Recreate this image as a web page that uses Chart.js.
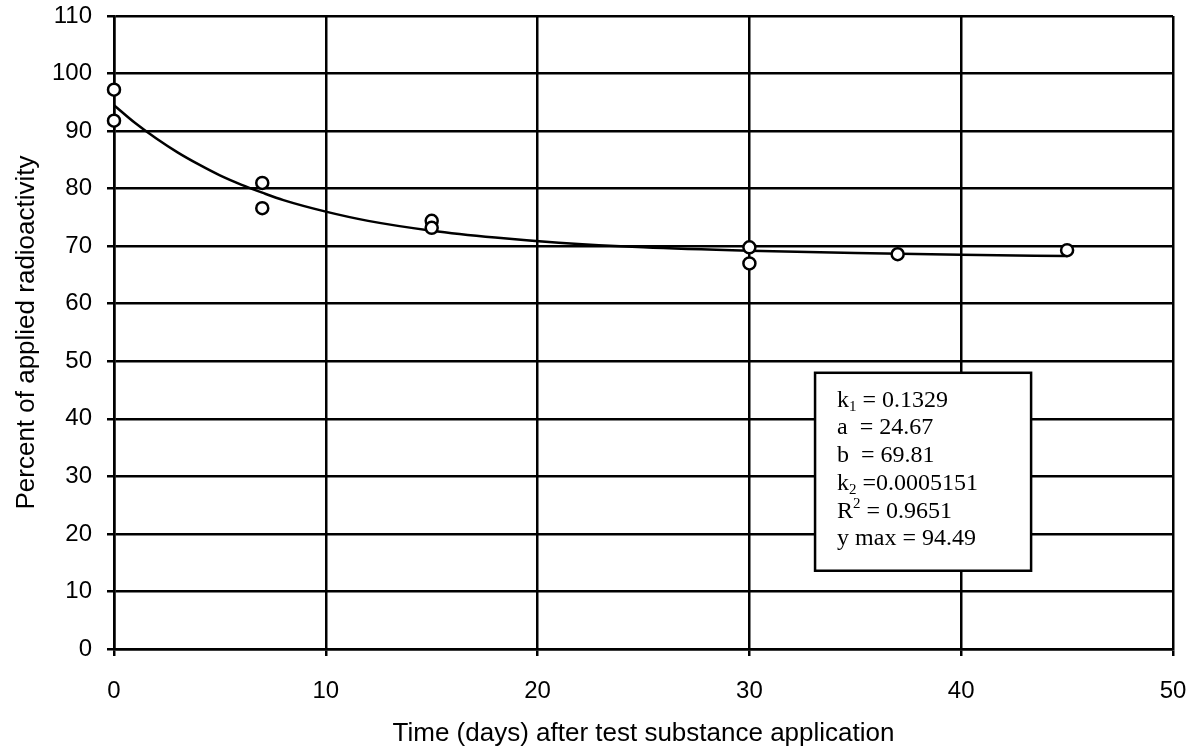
<!DOCTYPE html>
<html>
<head>
<meta charset="utf-8">
<script src="https://cdn.jsdelivr.net/npm/chart.js@4/dist/chart.umd.min.js"></script>
<style>
  html, body { margin: 0; padding: 0; background: #fff; }
  #wrap { width: 1199px; height: 752px; }
</style>
</head>
<body>
<div id="wrap"><canvas id="chart" width="1199" height="752"></canvas></div>
<script>
// measured samples (days, % of applied radioactivity)
const sampleDays = [0, 0, 7, 7, 15, 15, 30, 30, 37, 45];
const samplePct = [97.2, 91.8, 81.0, 76.6, 74.4, 73.2, 69.8, 67.0, 68.6, 69.3];

// fitted bi-exponential curve, read along its length
const fitDays = [0, 1, 2, 3, 4, 5, 6, 7, 8, 10, 12, 15, 18, 21, 25, 30, 35, 40, 45];
const fitPct = [94.5, 91.4, 88.7, 86.3, 84.2, 82.3, 80.7, 79.3, 78.0, 76.0, 74.4, 72.7, 71.5, 70.6, 69.8, 69.2, 68.8, 68.5, 68.3];

const xTicks = [0, 10, 20, 30, 40, 50];
const yTicks = [0, 10, 20, 30, 40, 50, 60, 70, 80, 90, 100, 110];

// text for the fit parameter box: [base, script, mode, rest]
const fitParams = [
  ['k', '1', 'sub', ' = 0.1329'],
  ['a  = 24.67', '', '', ''],
  ['b  = 69.81', '', '', ''],
  ['k', '2', 'sub', ' =0.0005151'],
  ['R', '2', 'sup', ' = 0.9651'],
  ['y max = 94.49', '', '', '']
];

const sans = "'Liberation Sans', Arial, sans-serif";
const serif = "'Liberation Serif', 'Times New Roman', serif";

const paramBox = {
  id: 'paramBox',
  afterDatasetsDraw(chart) {
    const ctx = chart.ctx;
    const xs = chart.scales.x, ys = chart.scales.y;
    const left = xs.getPixelForValue(33.1), right = xs.getPixelForValue(43.3);
    const top = ys.getPixelForValue(48.0), bottom = ys.getPixelForValue(13.6);
    ctx.save();
    ctx.fillStyle = '#fff';
    ctx.fillRect(left, top, right - left, bottom - top);
    ctx.strokeStyle = '#000';
    ctx.lineWidth = 2.5;
    ctx.strokeRect(left, top, right - left, bottom - top);
    ctx.fillStyle = '#000';
    ctx.textBaseline = 'alphabetic';
    ctx.textAlign = 'left';
    let y = top + 34;
    fitParams.forEach(p => {
      let x = left + 22;
      ctx.font = '24px ' + serif;
      ctx.fillText(p[0], x, y);
      x += ctx.measureText(p[0]).width;
      if (p[1]) {
        ctx.font = '15px ' + serif;
        ctx.fillText(p[1], x, p[2] === 'sub' ? y + 4 : y - 10);
        x += ctx.measureText(p[1]).width;
        ctx.font = '24px ' + serif;
        ctx.fillText(p[3], x, y);
      }
      y += 27.7;
    });
    ctx.restore();
  }
};

new Chart(document.getElementById('chart'), {
  type: 'scatter',
  data: {
    datasets: [
      {
        type: 'line',
        data: fitDays.map((d, i) => ({ x: d, y: fitPct[i] })),
        borderColor: '#000',
        borderWidth: 2.5,
        pointRadius: 0,
        cubicInterpolationMode: 'monotone',
        fill: false,
        clip: false,
        order: 2
      },
      {
        data: sampleDays.map((d, i) => ({ x: d, y: samplePct[i] })),
        backgroundColor: '#fff',
        borderColor: '#000',
        borderWidth: 2.5,
        pointRadius: 6,
        clip: false,
        order: 1
      }
    ]
  },
  options: {
    responsive: false,
    animation: false,
    layout: { padding: { top: 16, right: 26, left: 0, bottom: 0 } },
    plugins: { legend: { display: false }, tooltip: { enabled: false } },
    scales: {
      x: {
        type: 'linear',
        min: 0, max: 50,
        afterBuildTicks: s => { s.ticks = xTicks.map(v => ({ value: v })); },
        afterFit: s => { s.height = 103; s.paddingLeft = 0; s.paddingRight = 0; },
        grid: { color: '#000', lineWidth: 2.5, tickLength: 7, drawTicks: true },
        border: { color: '#000', width: 2.5 },
        ticks: { color: '#000', padding: 21, font: { family: sans, size: 24 } },
        title: {
          display: true,
          text: 'Time (days) after test substance application',
          color: '#000',
          font: { family: sans, size: 26 },
          padding: { top: 0, bottom: 3 }
        }
      },
      y: {
        type: 'linear',
        min: 0, max: 110,
        afterBuildTicks: s => { s.ticks = yTicks.map(v => ({ value: v })); },
        afterFit: s => { s.width = 114; s.paddingTop = 0; s.paddingBottom = 0; },
        grid: { color: '#000', lineWidth: 2.5, tickLength: 7, drawTicks: true },
        border: { color: '#000', width: 2.5 },
        ticks: { color: '#000', padding: 15, font: { family: sans, size: 24 } },
        title: {
          display: true,
          text: 'Percent of applied radioactivity',
          color: '#000',
          font: { family: sans, size: 26 },
          padding: { top: 11, bottom: 0 }
        }
      }
    }
  },
  plugins: [paramBox]
});
</script>
</body>
</html>
